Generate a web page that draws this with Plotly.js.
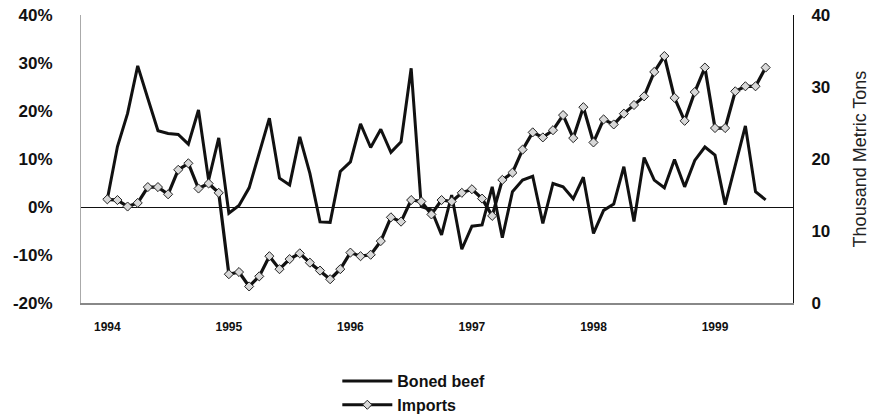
<!DOCTYPE html>
<html>
<head>
<meta charset="utf-8">
<script src="https://cdn.plot.ly/plotly-3.0.1.min.js"></script>
<style>html,body{margin:0;padding:0;background:#fff;}#chart{width:875px;height:420px;}</style>
</head>
<body>
<div id="chart"></div>
<script>
// Monthly index: 0 = Jan 1994 ... 65 = Jun 1999
const months = Array.from({length: 66}, (_, i) => i);
const yearTickVals = [0, 12, 24, 36, 48, 60];
const yearTickText = ["1994", "1995", "1996", "1997", "1998", "1999"];
const pctTickVals = [-20, -10, 0, 10, 20, 30, 40];
const pctTickText = ["-20%", "-10%", "0%", "10%", "20%", "30%", "40%"];

// Boned beef, percent (left axis)
const bonedBeef = [
  1.6, 12.6, 19.5, 29.4, 22.6, 15.9, 15.3, 15.1, 13.1, 20.2, 5.6, 14.4,
  -1.3, 0.3, 4.0, 11.5, 18.5, 6.0, 4.6, 14.6, 7.0, -3.1, -3.2, 7.4,
  9.4, 17.3, 12.4, 16.2, 11.4, 13.6, 28.9, 0.1, -0.6, -5.8, 2.5, -8.8,
  -4.0, -3.75, 4.2, -6.4, 3.2, 5.6, 6.4, -3.4, 4.9, 4.2, 1.7, 6.2,
  -5.5, -0.7, 0.6, 8.4, -3.0, 10.3, 5.6, 4.0, 9.9, 4.2, 9.7, 12.5,
  10.8, 0.5, 8.6, 16.9, 3.2, 1.5
];

// Imports, thousand metric tons (right axis)
const imports = [
  14.4, 14.3, 13.4, 13.9, 16.1, 16.1, 15.1, 18.5, 19.4, 15.9, 16.6, 15.3,
  4.0, 4.3, 2.3, 3.7, 6.5, 4.7, 6.1, 6.9, 5.6, 4.5, 3.3, 4.7,
  7.0, 6.5, 6.7, 8.6, 11.9, 11.3, 14.3, 14.1, 12.3, 14.3, 14.1, 15.3,
  15.8, 14.5, 12.1, 17.1, 18.1, 21.3, 23.7, 23.0, 24.0, 26.1, 22.9, 27.2,
  22.3, 25.5, 24.8, 26.3, 27.5, 28.7, 32.1, 34.3, 28.5, 25.3, 29.3, 32.7,
  24.3, 24.3, 29.4, 30.1, 30.1, 32.7
];

const FONT = "Liberation Sans, Arial, sans-serif";

const traces = [
  {
    x: months, y: bonedBeef, name: "Boned beef", type: "scatter", mode: "lines",
    yaxis: "y", legendgroup: "a",
    line: {color: "#111", width: 3}
  },
  {
    x: months, y: imports, name: "Imports", type: "scatter", mode: "lines+markers",
    yaxis: "y2", legendgroup: "b",
    line: {color: "#111", width: 3.2},
    marker: {symbol: "diamond", size: 7, color: "#d8d8d8", line: {color: "#222", width: 1}}
  }
];

const layout = {
  width: 875, height: 420,
  margin: {l: 81, r: 82, t: 15, b: 117, autoexpand: false},
  paper_bgcolor: "#fff", plot_bgcolor: "#fff",
  font: {family: FONT, color: "#111"},
  showlegend: true,
  legend: {
    x: 0.36, xanchor: "left", y: -0.212, yanchor: "top",
    orientation: "v", traceorder: "grouped", tracegroupgap: 0,
    itemwidth: 50,
    font: {family: FONT, size: 16, color: "#111", weight: "bold"},
    bgcolor: "rgba(0,0,0,0)"
  },
  xaxis: {
    range: [-2.6, 67.7],
    tickmode: "array", tickvals: yearTickVals, ticktext: yearTickText,
    tickfont: {family: FONT, size: 12, color: "#111", weight: "bold"},
    ticks: "", ticklabelstandoff: 12,
    showgrid: false, zeroline: false,
    showline: true, linecolor: "#888", linewidth: 2
  },
  yaxis: {
    range: [-20, 40],
    tickmode: "array", tickvals: pctTickVals, ticktext: pctTickText,
    tickfont: {family: FONT, size: 17, color: "#111", weight: "bold"},
    ticks: "", ticklabelstandoff: 24,
    showgrid: false,
    zeroline: true, zerolinecolor: "#111", zerolinewidth: 1,
    showline: true, linecolor: "#aaa", linewidth: 1
  },
  yaxis2: {
    range: [0, 40], dtick: 10, tick0: 0,
    overlaying: "y", side: "right",
    tickfont: {family: FONT, size: 17, color: "#111", weight: "bold"},
    ticks: "", ticklabelstandoff: 14,
    showgrid: false, zeroline: false,
    showline: true, linecolor: "#111", linewidth: 1,
    title: {text: "Thousand Metric Tons", standoff: 24,
            font: {family: FONT, size: 18, color: "#222"}}
  }
};

Plotly.newPlot("chart", traces, layout, {displayModeBar: false, staticPlot: true});
</script>
</body>
</html>
